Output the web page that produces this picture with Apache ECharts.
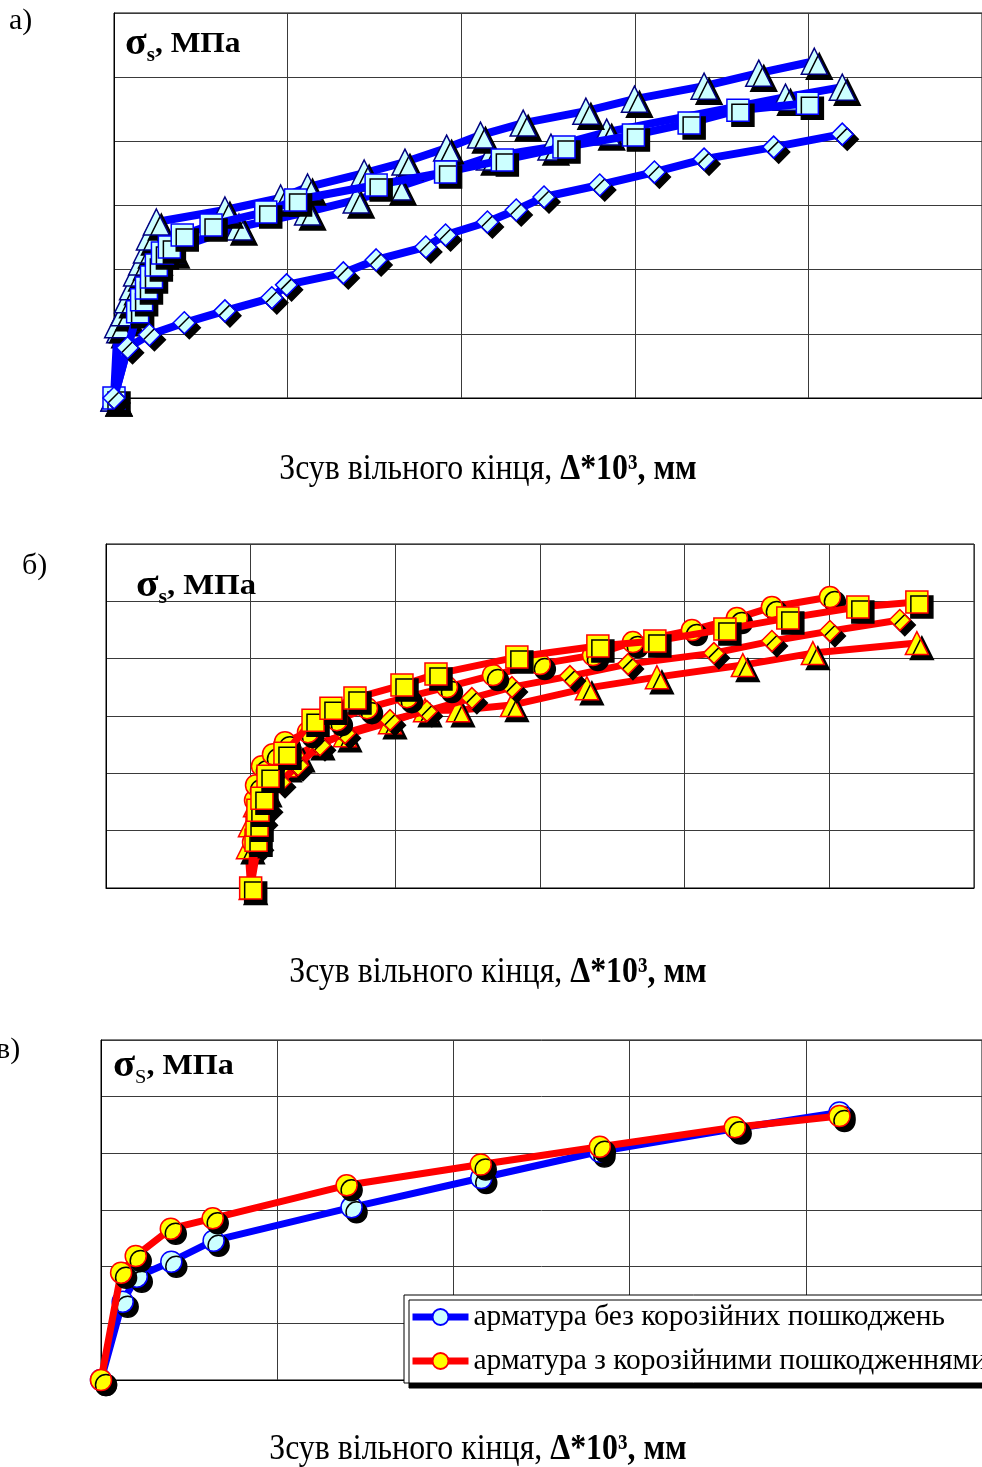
<!DOCTYPE html>
<html><head><meta charset="utf-8">
<script src="https://cdn.jsdelivr.net/npm/echarts@6/dist/echarts.min.js"></script>
<style>html,body{margin:0;padding:0;background:#fff}#c{width:982px;height:1467px}</style>
</head><body><div id="c"></div>
<script>
// ---- chart а) (blue) : [slip Δ*10^3, σs]
const aTriTop = [[0,0],[2.1,114.1],[5.6,132.7],[7.8,153.0],[10.7,173.2],[13.0,195.0],[15.9,212.1],[18.7,230.8],[20.4,251.0],[24.4,274.3],[63.9,293.0],[96.0,311.7],[111.5,328.8],[144.1,350.6],[167.6,367.7],[191.6,389.5],[211.1,409.7],[235.7,428.4],[271.8,447.0],[299.8,465.7],[339.9,486.0],[371.4,506.2],[403.4,524.8]];
const aTriLow = [[0,0],[3.3,106.3],[6.7,124.9],[9.6,145.2],[13.0,165.4],[15.9,184.1],[19.3,202.7],[23.3,219.9],[33.0,230.8],[72.0,266.5],[111.5,289.9],[139.5,308.6],[163.6,328.8],[216.2,375.5],[251.7,391.0],[283.8,414.4],[386.8,468.8],[419.5,484.4]];
const aSquare = [[0,0],[13.6,134.3],[15.9,153.0],[18.7,171.6],[21.6,188.7],[24.4,207.4],[27.9,226.1],[31.9,235.4],[39.3,254.1],[55.9,269.7],[87.4,289.9],[104.6,308.6],[151.0,331.9],[191.0,352.1],[223.7,370.8],[259.2,391.0],[299.2,409.7],[331.3,428.4],[359.4,448.6],[399.4,459.5]];
const aDiamond = [[0,0],[7.8,78.3],[20.4,98.5],[40.5,117.2],[63.9,135.8],[90.9,156.1],[99.4,176.3],[132.1,195.0],[151.0,215.2],[179.6,235.4],[191.0,254.1],[215.1,274.3],[231.7,293.0],[247.7,313.2],[279.8,331.9],[311.3,352.1],[339.9,372.3],[380.0,391.0],[419.5,411.2]];
// ---- chart б) (red)
const bCircle = [[100,0],[101.6,79.8],[103.0,153.1],[103.7,179.3],[107.8,212.5],[115.4,233.4],[123.7,254.4],[139.6,271.8],[159.6,292.8],[180.4,313.7],[208.0,332.9],[235.7,350.4],[267.5,371.3],[299.9,390.5],[336.6,406.2],[364.2,428.9],[405.0,449.9],[436.1,470.8],[460.3,490.0],[500.4,507.5]];
const bSquare = [[100,0],[103.7,83.3],[104.4,109.5],[105.0,135.6],[107.8,156.6],[112.0,195.0],[123.7,235.2],[143.1,292.8],[155.5,313.7],[172.1,331.2],[204.6,353.9],[228.1,373.1],[284.0,402.8],[340.0,422.0],[379.4,430.7],[427.8,451.6],[471.3,470.8],[519.7,490.0],[560.5,498.8]];
const bDiamond = [[100,0],[105.0,74.5],[107.8,118.2],[111.3,140.9],[120.3,184.5],[132.7,214.2],[147.9,249.1],[165.2,270.1],[196.3,292.8],[221.8,308.5],[252.9,331.2],[280.6,350.4],[320.7,369.6],[360.8,390.5],[420.2,409.7],[460.3,430.7],[500.4,448.1],[548.7,467.3]];
const bTriangle = [[100,0],[98.1,71.1],[99.5,109.5],[103.0,144.4],[109.9,170.6],[123.7,214.2],[132.7,231.7],[146.5,252.6],[165.2,266.6],[196.3,289.3],[220.5,310.2],[243.3,310.2],[280.6,319.0],[332.4,348.6],[380.8,367.8],[440.2,388.8],[488.6,409.7],[560.5,427.2]];
// ---- chart в)
const cNames = ['арматура без корозійних пошкоджень','арматура з корозійними пошкодженнями'];
const cBlue = [[0,0],[12.3,138.2],[20.3,182.3],[39.9,208.8],[63.9,245.8],[142.2,304.8],[215.8,356.5],[282.9,403.2],[360.2,443.8],[419.1,472.1]];
const cRed  = [[0,0],[11.4,189.4],[19.7,218.8],[39.6,267.0],[63.4,285.4],[139.4,343.6],[215.5,380.3],[283.1,411.7],[359.7,445.9],[419.1,465.9]];
// axis ranges
const xMax = [500, 600, 500];
const yMax = [600, 600, 600];
const panelLabels = ['а)', 'б)', 'в)'];
const xTitleNormal = 'Зсув вільного кінця, ';
const xTitleBold = 'Δ*10³, мм';

const chart = echarts.init(document.getElementById('c'), null, {renderer:'canvas'});
const SERIF = '"Liberation Serif","Times New Roman",serif';
const grids = [
  {left:114, top:13, width:873, height:385},
  {left:106, top:544, width:868, height:344},
  {left:101, top:1040, width:905, height:340}
].map(g => Object.assign({show:true, borderColor:'#000', borderWidth:1, backgroundColor:'transparent'}, g));

const xAxes = xMax.map((m,i)=>({gridIndex:i,type:'value',min:0,max:m,interval:100,
  axisLabel:{show:false},axisTick:{show:false},axisLine:{show:true,lineStyle:{color:'#000',width:1}},
  splitLine:{show:true,lineStyle:{color:'#3a3a3a',width:1}}}));
const yAxes = yMax.map((m,i)=>({gridIndex:i,type:'value',min:0,max:m,interval:100,
  axisLabel:{show:false},axisTick:{show:false},axisLine:{show:true,lineStyle:{color:'#000',width:1}},
  splitLine:{show:true,lineStyle:{color:'#3a3a3a',width:1}}}));

function mk(idx, data, symbol, size, lineColor, fill, border, lw, name, z){
  return {type:'line', name:name, xAxisIndex:idx, yAxisIndex:idx, data:data, symbol:symbol, symbolSize:size,
    showAllSymbol:true, clip:false, silent:true, z:z||2, animation:false,
    lineStyle:{color:lineColor, width:lw, join:'round'},
    itemStyle:{color:fill, borderColor:border, borderWidth:1.5, shadowColor:'#000', shadowOffsetX:5, shadowOffsetY:5, shadowBlur:0},
    emphasis:{disabled:true}};
}
const BLUE='#0000ff', CYAN='#ccffff', NAVY='#000080', RED='#ff0000', YEL='#ffff00';
const series = [
  mk(0, aTriLow, 'triangle', 26, BLUE, CYAN, NAVY, 8, null, 2),
  mk(0, aTriTop, 'triangle', 26, BLUE, CYAN, NAVY, 8, null, 3),
  mk(0, aSquare, 'rect', 22, BLUE, CYAN, BLUE, 8, null, 4),
  mk(0, aDiamond, 'diamond', 22, BLUE, CYAN, BLUE, 8, null, 5),
  mk(1, bTriangle, 'triangle', 23, RED, YEL, RED, 7, null, 2),
  mk(1, bDiamond, 'diamond', 21, RED, YEL, RED, 7, null, 3),
  mk(1, bCircle, 'circle', 21, RED, YEL, RED, 7, null, 4),
  mk(1, bSquare, 'rect', 22, RED, YEL, RED, 7, null, 5),
  mk(2, cBlue, 'circle', 21, BLUE, CYAN, BLUE, 7, cNames[0], 2),
  mk(2, cRed, 'circle', 21, RED, YEL, RED, 7, cNames[1], 3)
];

const sigmaRich = {
  g:{fontFamily:SERIF, fontSize:38, fontWeight:'bold', color:'#000', lineHeight:34, verticalAlign:'middle'},
  m:{fontFamily:SERIF, fontSize:30, fontWeight:'bold', color:'#000', lineHeight:34, verticalAlign:'middle'},
  s:{fontFamily:SERIF, fontSize:20, fontWeight:'bold', color:'#000', lineHeight:44, verticalAlign:'bottom'}
};
const sigmaRichC = {
  g:sigmaRich.g, m:sigmaRich.m,
  s:{fontFamily:SERIF, fontSize:19, color:'#000', lineHeight:44, verticalAlign:'bottom'}
};
const xRich = {
  n:{fontFamily:SERIF, fontSize:35, color:'#000'},
  b:{fontFamily:SERIF, fontSize:35, fontWeight:'bold', color:'#000'}
};
function txt(x,y,text,rich,align,sx,fs){
  return {type:'text', x:x, y:y, z:100, silent:true, scaleX:sx||1,
    style:{text:text, rich:rich, align:align||'left', textAlign:align||'left', verticalAlign:'middle', textVerticalAlign:'middle',
      fill:'#000', font:(fs||30)+'px '+SERIF}};
}
const graphic = [
  txt(9, 21, panelLabels[0]),
  txt(22, 566, panelLabels[1]),
  txt(-4, 1050, panelLabels[2]),
  txt(125, 44, '{g|σ}{s|s}{m|, МПа}', sigmaRich, 'left', 1.05),
  txt(136, 586, '{g|σ}{s|s}{m|, МПа}', sigmaRich, 'left', 1.09),
  txt(113, 1066, '{g|σ}{s|S}{m|, МПа}', sigmaRichC, 'left', 1.07),
  txt(488, 470, '{n|'+xTitleNormal+'}{b|'+xTitleBold+'}', xRich, 'center', 0.91),
  txt(498, 973, '{n|'+xTitleNormal+'}{b|'+xTitleBold+'}', xRich, 'center', 0.91),
  txt(478, 1450, '{n|'+xTitleNormal+'}{b|'+xTitleBold+'}', xRich, 'center', 0.91)
];

chart.setOption({
  animation:false,
  backgroundColor:'#fff',
  grid:grids, xAxis:xAxes, yAxis:yAxes, series:series, graphic:graphic,
  legend:{data:cNames, orient:'vertical', left:404, top:1295, itemWidth:56, itemHeight:20, itemGap:12,
    textStyle:{fontFamily:SERIF, fontSize:29.5, color:'#000', lineHeight:32},
    backgroundColor:'#fff', borderColor:'#000', borderWidth:1, padding:[6,40,6,5],
    shadowColor:'#000', shadowOffsetX:5, shadowOffsetY:5, shadowBlur:0,
    lineStyle:{width:7},
    itemStyle:{shadowColor:'rgba(0,0,0,0)', shadowOffsetX:0, shadowOffsetY:0},
    selectedMode:false, z:50}
});
</script></body></html>
